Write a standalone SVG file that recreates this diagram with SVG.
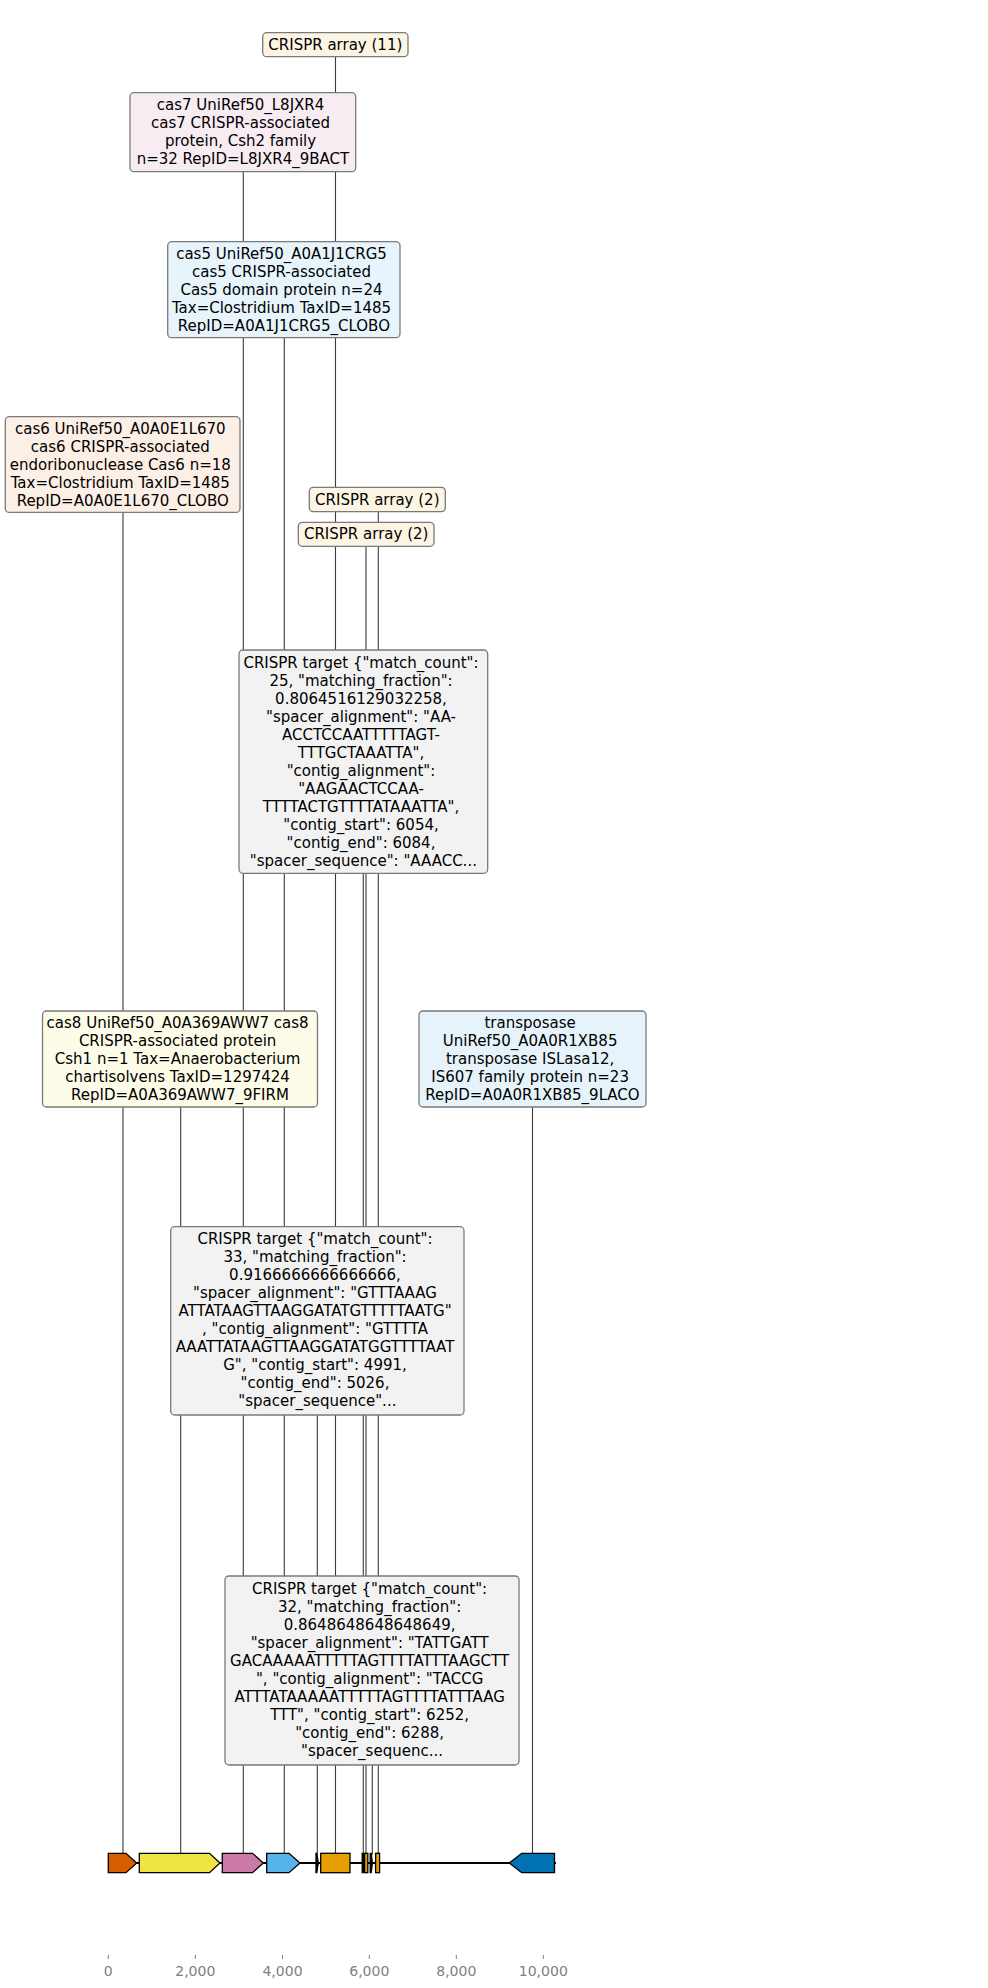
<svg xmlns="http://www.w3.org/2000/svg" width="988" height="1988" viewBox="0 0 988 1988">
  <style>
    .lbl { font-family: "DejaVu Sans", "Liberation Sans", sans-serif; font-size: 15px; fill: #000; text-anchor: middle; }
    .box { stroke: #7a7a7a; stroke-width: 1.3; }
    .conn line { stroke: #3a3a3a; stroke-width: 1.1; }
    .gene { stroke: #000; stroke-width: 1.3; stroke-linejoin: miter; }
    .tick { stroke: #808080; stroke-width: 1; }
    .ticklbl { font-family: "DejaVu Sans", "Liberation Sans", sans-serif; font-size: 14px; fill: #808080; text-anchor: middle; }
  </style>
  <rect width="988" height="1988" fill="#ffffff"/>

  <!-- label leader lines, feature centre up to label box -->
  <g id="connectors" class="conn">
    <line x1="123" y1="512" x2="123" y2="1855"/>
    <line x1="180.7" y1="1107" x2="180.7" y2="1855"/>
    <line x1="243.3" y1="171.7" x2="243.3" y2="1855"/>
    <line x1="284.3" y1="337.7" x2="284.3" y2="1855"/>
    <line x1="317.3" y1="1415" x2="317.3" y2="1855"/>
    <line x1="335.5" y1="56.7" x2="335.5" y2="1855"/>
    <line x1="363.3" y1="873.3" x2="363.3" y2="1855"/>
    <line x1="366" y1="546.3" x2="366" y2="1855"/>
    <line x1="372.3" y1="1765" x2="372.3" y2="1855"/>
    <line x1="378.3" y1="511.7" x2="378.3" y2="1855"/>
    <line x1="532.5" y1="1107" x2="532.5" y2="1855"/>
  </g>

  <!-- contig backbone and features -->
  <g id="track">
    <line x1="108" y1="1863" x2="556" y2="1863" stroke="#000" stroke-width="2.2"/>
    <polygon id="gene-cas6" class="gene" fill="#D55E00" points="108.3,1853.3 126,1853.3 136.7,1863 126,1872.7 108.3,1872.7"/>
    <polygon id="gene-cas8" class="gene" fill="#F0E442" points="139.3,1853.3 209.5,1853.3 220,1863 209.5,1872.7 139.3,1872.7"/>
    <polygon id="gene-cas7" class="gene" fill="#CC79A7" points="222.3,1853.3 252.5,1853.3 263.3,1863 252.5,1872.7 222.3,1872.7"/>
    <polygon id="gene-cas5" class="gene" fill="#56B4E9" points="266.7,1853.3 289,1853.3 300,1863 289,1872.7 266.7,1872.7"/>
    <polygon id="target-2" class="gene" fill="#000" points="316,1853.3 316.8,1853.3 318.3,1863 316.8,1872.7 316,1872.7"/>
    <rect id="array-11" class="gene" fill="#E69F00" x="320.7" y="1853.3" width="29.3" height="19.4"/>
    <polygon id="target-1" class="gene" fill="#000" points="362.2,1853.3 363.2,1853.3 364.4,1863 363.2,1872.7 362.2,1872.7"/>
    <rect id="array-2b" class="gene" fill="#E69F00" x="364.6" y="1853.3" width="3.2" height="19.4"/>
    <polygon id="target-3" class="gene" fill="#000" points="370.2,1853.3 371.2,1853.3 372.4,1863 371.2,1872.7 370.2,1872.7"/>
    <rect id="array-2a" class="gene" fill="#E69F00" x="375.6" y="1853.3" width="4" height="19.4"/>
    <polygon id="gene-transposase" class="gene" fill="#0072B2" points="554.5,1853.3 521.7,1853.3 509.3,1863 521.7,1872.7 554.5,1872.7"/>
  </g>

  <!-- position axis -->
  <g id="axis">
    <line class="tick" x1="108.3" y1="1955" x2="108.3" y2="1959"/>
    <line class="tick" x1="195.3" y1="1955" x2="195.3" y2="1959"/>
    <line class="tick" x1="282.5" y1="1955" x2="282.5" y2="1959"/>
    <line class="tick" x1="369.3" y1="1955" x2="369.3" y2="1959"/>
    <line class="tick" x1="456.3" y1="1955" x2="456.3" y2="1959"/>
    <line class="tick" x1="543.3" y1="1955" x2="543.3" y2="1959"/>
    <text class="ticklbl" x="108.3" y="1975.8">0</text>
    <text class="ticklbl" x="195.3" y="1975.8">2,000</text>
    <text class="ticklbl" x="282.5" y="1975.8">4,000</text>
    <text class="ticklbl" x="369.3" y="1975.8">6,000</text>
    <text class="ticklbl" x="456.3" y="1975.8">8,000</text>
    <text class="ticklbl" x="543.3" y="1975.8">10,000</text>
  </g>

  <!-- feature labels -->
  <g id="label-array-11">
    <rect class="box" fill="#fdf5e4" x="262.7" y="32.7" width="145.3" height="24" rx="4"/>
    <text class="lbl" x="335.3" y="49.8">CRISPR array (11)</text>
  </g>

  <g id="label-cas7">
    <rect class="box" fill="#f7ecf2" x="130" y="92.7" width="225.7" height="79" rx="4"/>
    <text class="lbl" x="242.9" y="110">
      <tspan x="242.9">cas7 UniRef50_L8JXR4</tspan>
      <tspan x="242.9" dy="18">cas7 CRISPR-associated</tspan>
      <tspan x="242.9" dy="18">protein, Csh2 family</tspan>
      <tspan x="242.9" dy="18">n=32 RepID=L8JXR4_9BACT</tspan>
    </text>
  </g>

  <g id="label-cas5">
    <rect class="box" fill="#e7f4fc" x="167.7" y="241.7" width="232.3" height="96" rx="4"/>
    <text class="lbl" x="283.9" y="258.7">
      <tspan x="283.9">cas5 UniRef50_A0A1J1CRG5</tspan>
      <tspan x="283.9" dy="18">cas5 CRISPR-associated</tspan>
      <tspan x="283.9" dy="18">Cas5 domain protein n=24</tspan>
      <tspan x="283.9" dy="18">Tax=Clostridium TaxID=1485</tspan>
      <tspan x="283.9" dy="18">RepID=A0A1J1CRG5_CLOBO</tspan>
    </text>
  </g>

  <g id="label-cas6">
    <rect class="box" fill="#fcefe5" x="5.3" y="416.7" width="234.7" height="95.7" rx="4"/>
    <text class="lbl" x="122.7" y="433.5">
      <tspan x="122.7">cas6 UniRef50_A0A0E1L670</tspan>
      <tspan x="122.7" dy="18">cas6 CRISPR-associated</tspan>
      <tspan x="122.7" dy="18">endoribonuclease Cas6 n=18</tspan>
      <tspan x="122.7" dy="18">Tax=Clostridium TaxID=1485</tspan>
      <tspan x="122.7" dy="18">RepID=A0A0E1L670_CLOBO</tspan>
    </text>
  </g>

  <g id="label-array-2a">
    <rect class="box" fill="#fdf5e4" x="309.3" y="487.3" width="136" height="24.4" rx="4"/>
    <text class="lbl" x="377.3" y="504.5">CRISPR array (2)</text>
  </g>

  <g id="label-array-2b">
    <rect class="box" fill="#fdf5e4" x="298.3" y="522.3" width="135.7" height="24" rx="4"/>
    <text class="lbl" x="366.2" y="539.3">CRISPR array (2)</text>
  </g>

  <g id="label-target-1">
    <rect class="box" fill="#f2f2f2" x="239" y="650" width="248.7" height="223.3" rx="4"/>
    <text class="lbl" x="363.4" y="667.5">
      <tspan x="363.4">CRISPR target {"match_count":</tspan>
      <tspan x="363.4" dy="18">25, "matching_fraction":</tspan>
      <tspan x="363.4" dy="18">0.8064516129032258,</tspan>
      <tspan x="363.4" dy="18">"spacer_alignment": "AA-</tspan>
      <tspan x="363.4" dy="18">ACCTCCAATTTTTAGT-</tspan>
      <tspan x="363.4" dy="18">TTTGCTAAATTA",</tspan>
      <tspan x="363.4" dy="18">"contig_alignment":</tspan>
      <tspan x="363.4" dy="18">"AAGAACTCCAA-</tspan>
      <tspan x="363.4" dy="18">TTTTACTGTTTTATAAATTA",</tspan>
      <tspan x="363.4" dy="18">"contig_start": 6054,</tspan>
      <tspan x="363.4" dy="18">"contig_end": 6084,</tspan>
      <tspan x="363.4" dy="18">"spacer_sequence": "AAACC...</tspan>
    </text>
  </g>

  <g id="label-cas8">
    <rect class="box" fill="#fdfce8" x="42.5" y="1011" width="275" height="96" rx="4"/>
    <text class="lbl" x="180" y="1028">
      <tspan x="180">cas8 UniRef50_A0A369AWW7 cas8</tspan>
      <tspan x="180" dy="18">CRISPR-associated protein</tspan>
      <tspan x="180" dy="18">Csh1 n=1 Tax=Anaerobacterium</tspan>
      <tspan x="180" dy="18">chartisolvens TaxID=1297424</tspan>
      <tspan x="180" dy="18">RepID=A0A369AWW7_9FIRM</tspan>
    </text>
  </g>

  <g id="label-transposase">
    <rect class="box" fill="#e6f3fa" x="419" y="1011" width="227" height="96" rx="4"/>
    <text class="lbl" x="532.5" y="1028">
      <tspan x="532.5">transposase</tspan>
      <tspan x="532.5" dy="18">UniRef50_A0A0R1XB85</tspan>
      <tspan x="532.5" dy="18">transposase ISLasa12,</tspan>
      <tspan x="532.5" dy="18">IS607 family protein n=23</tspan>
      <tspan x="532.5" dy="18">RepID=A0A0R1XB85_9LACO</tspan>
    </text>
  </g>

  <g id="label-target-2">
    <rect class="box" fill="#f2f2f2" x="170.7" y="1226.7" width="293.3" height="188.3" rx="4"/>
    <text class="lbl" x="317.4" y="1244">
      <tspan x="317.4">CRISPR target {"match_count":</tspan>
      <tspan x="317.4" dy="18">33, "matching_fraction":</tspan>
      <tspan x="317.4" dy="18">0.9166666666666666,</tspan>
      <tspan x="317.4" dy="18">"spacer_alignment": "GTTTAAAG</tspan>
      <tspan x="317.4" dy="18">ATTATAAGTTAAGGATATGTTTTTAATG"</tspan>
      <tspan x="317.4" dy="18">, "contig_alignment": "GTTTTA</tspan>
      <tspan x="317.4" dy="18">AAATTATAAGTTAAGGATATGGTTTTAAT</tspan>
      <tspan x="317.4" dy="18">G", "contig_start": 4991,</tspan>
      <tspan x="317.4" dy="18">"contig_end": 5026,</tspan>
      <tspan x="317.4" dy="18">"spacer_sequence"...</tspan>
    </text>
  </g>

  <g id="label-target-3">
    <rect class="box" fill="#f2f2f2" x="225" y="1576" width="294" height="189" rx="4"/>
    <text class="lbl" x="372" y="1593.5">
      <tspan x="372">CRISPR target {"match_count":</tspan>
      <tspan x="372" dy="18">32, "matching_fraction":</tspan>
      <tspan x="372" dy="18">0.8648648648648649,</tspan>
      <tspan x="372" dy="18">"spacer_alignment": "TATTGATT</tspan>
      <tspan x="372" dy="18">GACAAAAATTTTTAGTTTTATTTAAGCTT</tspan>
      <tspan x="372" dy="18">", "contig_alignment": "TACCG</tspan>
      <tspan x="372" dy="18">ATTTATAAAAATTTTTAGTTTTATTTAAG</tspan>
      <tspan x="372" dy="18">TTT", "contig_start": 6252,</tspan>
      <tspan x="372" dy="18">"contig_end": 6288,</tspan>
      <tspan x="372" dy="18">"spacer_sequenc...</tspan>
    </text>
  </g>
</svg>
